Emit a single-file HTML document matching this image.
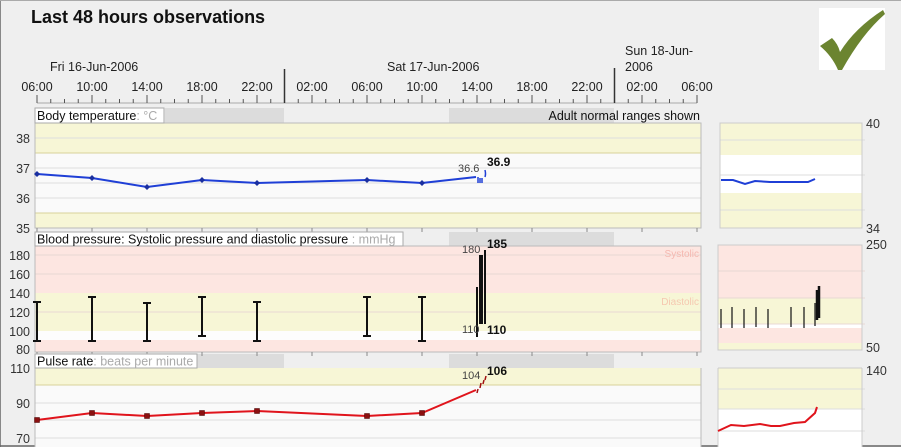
<!DOCTYPE html>
<html><head><meta charset="utf-8"><style>
html,body{margin:0;padding:0;background:#efefef;}
svg{display:block;font-family:"Liberation Sans",sans-serif;}
</style></head><body>
<svg width="901" height="447" viewBox="0 0 901 447" xmlns="http://www.w3.org/2000/svg">
<rect x="0" y="0" width="901" height="447" fill="#efefef"/>
<line x1="0.5" y1="0" x2="0.5" y2="447" stroke="#888"/>
<line x1="0" y1="0.5" x2="901" y2="0.5" stroke="#aaa"/>
<line x1="0" y1="446" x2="901" y2="446" stroke="#666" stroke-width="1.5"/>
<text x="31" y="23" font-size="18" font-weight="bold" fill="#111">Last 48 hours observations</text>
<!-- check box -->
<rect x="819" y="8" width="66" height="62" fill="#fff"/>
<path d="M820,46 L832,38 Q838,44 840,52 Q855,28 883,10 L885,14 Q862,34 842,70 L838,70 Q832,56 820,46 Z" fill="#6b8430"/>
<!-- axis -->
<g font-size="12.5" fill="#222">
<text x="50" y="71">Fri 16-Jun-2006</text>
<text x="387" y="71">Sat 17-Jun-2006</text>
<text x="625" y="55">Sun  18-Jun-</text>
<text x="625" y="71">2006</text>
<g text-anchor="middle">
<text x="37" y="91">06:00</text><text x="92" y="91">10:00</text><text x="147" y="91">14:00</text><text x="202" y="91">18:00</text><text x="257" y="91">22:00</text><text x="312" y="91">02:00</text><text x="367" y="91">06:00</text><text x="422" y="91">10:00</text><text x="477" y="91">14:00</text><text x="532" y="91">18:00</text><text x="587" y="91">22:00</text><text x="642" y="91">02:00</text><text x="697" y="91">06:00</text>
</g></g>
<g stroke="#555" stroke-width="1" id="ticks">
<line x1="37" y1="103" x2="697" y2="103" stroke="#aaa"/>
<path d="M37,95V103M92,95V103M147,95V103M202,95V103M257,95V103M312,95V103M367,95V103M422,95V103M477,95V103M532,95V103M587,95V103M642,95V103M697,95V103"/>
<path d="M50.75,99V103M64.5,99V103M78.25,99V103M105.75,99V103M119.5,99V103M133.25,99V103M160.75,99V103M174.5,99V103M188.25,99V103M215.75,99V103M229.5,99V103M243.25,99V103M270.75,99V103M298.25,99V103M325.75,99V103M339.5,99V103M353.25,99V103M380.75,99V103M394.5,99V103M408.25,99V103M435.75,99V103M449.5,99V103M463.25,99V103M490.75,99V103M504.5,99V103M518.25,99V103M545.75,99V103M559.5,99V103M573.25,99V103M600.75,99V103M628.25,99V103M655.75,99V103M669.5,99V103M683.25,99V103"/>
</g>
<line x1="284.5" y1="69" x2="284.5" y2="103" stroke="#333" stroke-width="1.5"/>
<line x1="614.5" y1="68" x2="614.5" y2="103" stroke="#333" stroke-width="1.5"/>

<!-- header shading rows -->
<g>
<rect x="165" y="108" width="119" height="15" fill="#dcdcdc"/>
<rect x="449" y="108" width="165" height="15" fill="#dcdcdc"/>
<rect x="165" y="232" width="119" height="14" fill="#dcdcdc"/>
<rect x="449" y="232" width="165" height="14" fill="#dcdcdc"/>
<rect x="165" y="354" width="119" height="14" fill="#dcdcdc"/>
<rect x="449" y="354" width="165" height="14" fill="#dcdcdc"/>
</g>

<!-- TEMP panel -->
<rect x="35" y="123" width="666" height="30" fill="#f7f6d6"/>
<rect x="35" y="153" width="666" height="60" fill="#fafafa"/>
<rect x="35" y="213" width="666" height="15" fill="#f7f6d6"/>
<g stroke="#ddd"><path d="M35,138H701M35,168H701M35,183H701M35,198H701"/></g>
<g stroke="#d8d39a"><path d="M35,153H701M35,213H701"/></g>
<rect x="35" y="123" width="666" height="105" fill="none" stroke="#bbb"/>
<rect x="35" y="108" width="129" height="15" fill="#fff" stroke="#aaa"/>
<text x="37" y="120" font-size="12.5" fill="#111">Body temperature<tspan fill="#aaa">: °C</tspan></text>
<text x="700" y="120" font-size="12.5" fill="#111" text-anchor="end">Adult normal ranges shown</text>
<g font-size="12.5" fill="#333" text-anchor="end"><text x="30" y="143">38</text><text x="30" y="173">37</text><text x="30" y="203">36</text><text x="30" y="233">35</text></g>
<polyline points="37,174 92,178 147,187 202,180 257,183 367,180 422,183 476,177" fill="none" stroke="#1f3fd6" stroke-width="2"/>
<g fill="#1a2fa0"><path d="M37,171l3,3-3,3-3-3z M92,175l3,3-3,3-3-3z M147,184l3,3-3,3-3-3z M202,177l3,3-3,3-3-3z M257,180l3,3-3,3-3-3z M367,177l3,3-3,3-3-3z M422,180l3,3-3,3-3-3z"/></g>
<path d="M478,177v6M480,178v5M482,178v5M485,177q1,-3 0,-7" stroke="#1f3fd6" stroke-width="1.5" fill="none"/>
<text x="458" y="172" font-size="11" fill="#444">36.6</text>
<text x="487" y="166" font-size="12" font-weight="bold" fill="#111">36.9</text>
<g stroke="#888"><path d="M37,228v4M92,228v4M147,228v4M202,228v4M257,228v4M312,228v4M367,228v4M422,228v4M477,228v4M532,228v4M587,228v4M642,228v4M697,228v4"/></g>

<!-- BP panel -->
<rect x="35" y="246" width="666" height="47" fill="#fde6e1"/>
<rect x="35" y="293" width="666" height="38" fill="#f7f6d6"/>
<rect x="35" y="331" width="666" height="9" fill="#fdfdfd"/>
<rect x="35" y="340" width="666" height="12" fill="#fde6e1"/>
<g stroke="#e8d8d4"><path d="M35,255H701M35,274H701M35,312H701"/></g>
<rect x="35" y="246" width="666" height="106" fill="none" stroke="#bbb"/>
<rect x="35" y="232" width="368" height="14" fill="#fff" stroke="#aaa"/>
<text x="37" y="243.5" font-size="12.5" fill="#111">Blood pressure: Systolic pressure and diastolic pressure<tspan fill="#aaa"> : mmHg</tspan></text>
<text x="699" y="257" font-size="10" fill="#f5b8b0" text-anchor="end">Systolic</text>
<text x="699" y="305" font-size="10" fill="#f5c8b0" text-anchor="end">Diastolic</text>
<g font-size="12.5" fill="#333" text-anchor="end"><text x="30" y="260">180</text><text x="30" y="279">160</text><text x="30" y="298">140</text><text x="30" y="317">120</text><text x="30" y="336">100</text><text x="30" y="354">80</text></g>
<g stroke="#111" stroke-width="2" fill="none">
<path d="M37,302V341M33,302h8M33,341h8"/>
<path d="M92,297V341M88,297h8M88,341h8"/>
<path d="M147,303V341M143,303h8M143,341h8"/>
<path d="M202,297V336M198,297h8M198,336h8"/>
<path d="M257,302V341M253,302h8M253,341h8"/>
<path d="M367,297V336M363,297h8M363,336h8"/>
<path d="M422,297V341M418,297h8M418,341h8"/>
<path d="M477,287V337M480,255V324M482,255V324M485,250V324"/>
</g>
<text x="462" y="253" font-size="11" fill="#444">180</text>
<text x="487" y="248" font-size="12" font-weight="bold" fill="#111">185</text>
<text x="462" y="333" font-size="11" fill="#444">110</text>
<text x="487" y="334" font-size="12" font-weight="bold" fill="#111">110</text>
<g stroke="#888"><path d="M37,352v4M92,352v4M147,352v4M202,352v4M257,352v4M312,352v4M367,352v4M422,352v4M477,352v4M532,352v4M587,352v4M642,352v4M697,352v4"/></g>

<!-- Pulse panel -->
<rect x="35" y="368" width="666" height="17" fill="#f7f6d6"/>
<rect x="35" y="385" width="666" height="62" fill="#fafafa"/>
<g stroke="#ddd"><path d="M35,403H701M35,420H701M35,438H701"/></g>
<line x1="35" y1="385" x2="701" y2="385" stroke="#d8d39a"/>
<line x1="35" y1="368" x2="35" y2="447" stroke="#bbb"/>
<line x1="701" y1="368" x2="701" y2="447" stroke="#bbb"/>
<rect x="35" y="354" width="162" height="14" fill="#fff" stroke="#aaa"/>
<text x="37" y="365.5" font-size="12.5" fill="#111">Pulse rate<tspan fill="#aaa">: beats per minute</tspan></text>
<g font-size="12.5" fill="#333" text-anchor="end"><text x="30" y="373">110</text><text x="30" y="408">90</text><text x="30" y="443">70</text></g>
<polyline points="37,420 92,413 147,416 202,413 257,411 367,416 422,413 476,390" fill="none" stroke="#e0141c" stroke-width="2"/>
<g fill="#8a1010" stroke="#400" stroke-width="0.5"><rect x="34.5" y="417.5" width="5" height="5"/><rect x="89.5" y="410.5" width="5" height="5"/><rect x="144.5" y="413.5" width="5" height="5"/><rect x="199.5" y="410.5" width="5" height="5"/><rect x="254.5" y="408.5" width="5" height="5"/><rect x="364.5" y="413.5" width="5" height="5"/><rect x="419.5" y="410.5" width="5" height="5"/></g>
<path d="M477,393l1,-4M480,388l1,-5M483,384l1,-4M485,380l1,-4" stroke="#a01010" stroke-width="1.5"/>
<text x="462" y="379" font-size="11" fill="#444">104</text>
<text x="487" y="375" font-size="12" font-weight="bold" fill="#111">106</text>

<!-- mini temp -->
<rect x="720" y="123" width="142" height="105" fill="#f7f6d6"/>
<rect x="720" y="155" width="142" height="38" fill="#fff"/>
<g stroke="#ddd"><path d="M720,140H865M720,175H865M720,210H865"/></g>
<rect x="720" y="123" width="142" height="105" fill="none" stroke="#ccc"/>
<polyline points="721,180 733,180 745,184 755,181 770,182 808,182 815,179" fill="none" stroke="#1f3fd6" stroke-width="2"/>
<text x="866" y="128" font-size="12.5" fill="#333">40</text>
<text x="866" y="233" font-size="12.5" fill="#333">34</text>
<!-- mini bp -->
<rect x="718" y="245" width="144" height="105" fill="#fde6e1"/>
<rect x="718" y="298" width="144" height="26" fill="#f7f6d6"/>
<rect x="718" y="324" width="144" height="4" fill="#fff"/>
<rect x="718" y="343" width="144" height="7" fill="#f7f6d6"/>
<g stroke="#e8d8d4"><path d="M718,271H865M718,298H865M718,324H865"/></g>
<rect x="718" y="245" width="144" height="105" fill="none" stroke="#ccc"/>
<g stroke="#111" stroke-width="1.2"><path d="M721,309V328M732,307V328M744,309V328M756,307V327M768,309V328M791,307V327M804,307V328M815,303V326"/></g>
<path d="M817,290V320M819,286V318" stroke="#111" stroke-width="2.5"/>
<text x="866" y="249" font-size="12.5" fill="#333">250</text>
<text x="866" y="352" font-size="12.5" fill="#333">50</text>
<!-- mini pulse -->
<rect x="718" y="368" width="144" height="79" fill="#fff"/>
<rect x="718" y="368" width="144" height="41" fill="#f7f6d6"/>
<g stroke="#ddd"><path d="M718,389H865M718,409H865M718,431H865"/></g>
<line x1="718" y1="368" x2="862" y2="368" stroke="#ccc"/>
<line x1="718" y1="368" x2="718" y2="447" stroke="#ccc"/>
<line x1="862" y1="368" x2="862" y2="447" stroke="#ccc"/>
<polyline points="718,431 731,425 744,426 760,424 771,426 780,426 794,423 805,422 815,413 817,407" fill="none" stroke="#e0141c" stroke-width="2"/>
<text x="866" y="375" font-size="12.5" fill="#333">140</text>
</svg>
</body></html>
